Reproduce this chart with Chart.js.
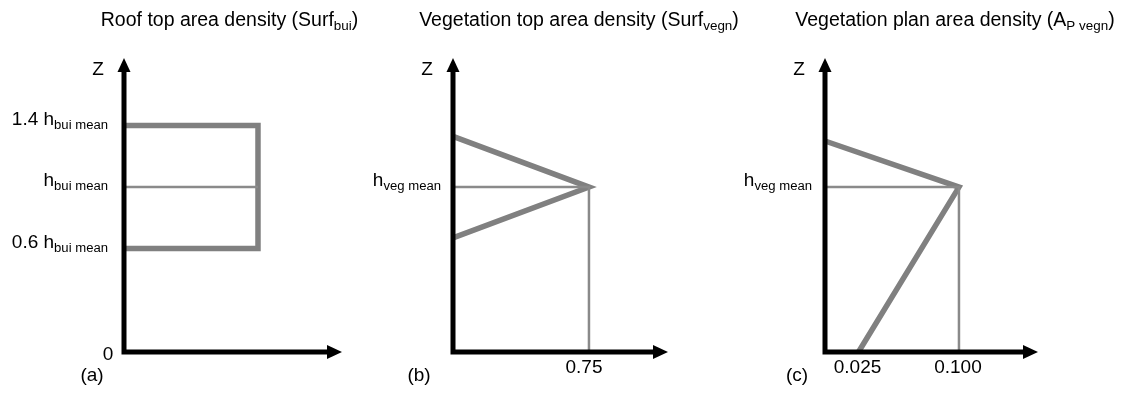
<!DOCTYPE html>
<html>
<head>
<meta charset="utf-8">
<script src="https://cdn.jsdelivr.net/npm/chart.js@4/dist/chart.umd.min.js"></script>
<style>
  html, body { margin: 0; padding: 0; background: #fff; }
  #wrap { position: relative; width: 1125px; height: 394px; overflow: hidden; }
  #wrap canvas { position: absolute; top: 0; left: 0; }
</style>
</head>
<body>
<div id="wrap">
  <canvas id="panelA" width="1125" height="394"></canvas>
  <canvas id="panelB" width="1125" height="394"></canvas>
  <canvas id="panelC" width="1125" height="394"></canvas>
</div>
<script>
// heights are in units of the mean height; the axis sits a little below z = 0
const Z_MIN = -0.073;
const Z_MAX = 1.84;

// (a) roof top area density: box between 0.6 and 1.4 h mean
const roofX = [0, 1, 1, 0];
const roofZ = [1.4, 1.4, 0.6, 0.6];
const roofMeanX = [0, 1];
const roofMeanZ = [1.0, 1.0];

// (b) vegetation top area density
const vegTopX = [0, 0.75, 0];
const vegTopZ = [1.33, 1.0, 0.67];
const vegTopGuideX = [0, 0.75, 0.75];
const vegTopGuideZ = [1.0, 1.0, Z_MIN];

// (c) vegetation plan area density
const vegPlanX = [0, 0.100, 0.025];
const vegPlanZ = [1.30, 1.0, Z_MIN];
const vegPlanGuideX = [0, 0.100, 0.100];
const vegPlanGuideZ = [1.0, 1.0, Z_MIN];

const xTicksB = [0.75];
const xTickLabelsB = ['0.75'];
const xTicksC = [0.025, 0.100];
const xTickLabelsC = ['0.025', '0.100'];

const FONT = '"Liberation Sans", Arial, Helvetica, sans-serif';
const GREY = '#808080';
const GREY_THIN = '#8a8a8a';

function pts(xs, zs) {
  return xs.map((x, i) => ({ x: x, y: zs[i] }));
}

// text with subscript pieces: parts = [[text, isSub], ...]
function drawRich(ctx, parts, x, y, align, size) {
  const subSize = size * 0.69;
  let total = 0;
  parts.forEach(p => {
    ctx.font = (p[1] ? subSize : size) + 'px ' + FONT;
    total += ctx.measureText(p[0]).width;
  });
  let cx = x;
  if (align === 'right') cx = x - total;
  else if (align === 'center') cx = x - total / 2;
  ctx.textAlign = 'left';
  ctx.textBaseline = 'alphabetic';
  ctx.fillStyle = '#000';
  parts.forEach(p => {
    ctx.font = (p[1] ? subSize : size) + 'px ' + FONT;
    ctx.fillText(p[0], cx, p[1] ? y + 4 : y);
    cx += ctx.measureText(p[0]).width;
  });
}

// black arrow axes plus all the annotation text of a panel
const arrowAxes = {
  id: 'arrowAxes',
  afterDatasetsDraw(chart, args, opts) {
    const ctx = chart.ctx;
    const a = chart.chartArea;
    const ox = a.left, oy = a.bottom;
    ctx.save();
    ctx.strokeStyle = '#000';
    ctx.fillStyle = '#000';
    ctx.lineWidth = 5;
    ctx.lineCap = 'butt';
    ctx.beginPath();
    ctx.moveTo(ox, oy + 2.5);
    ctx.lineTo(ox, a.top + 12);
    ctx.moveTo(ox - 2.5, oy);
    ctx.lineTo(a.right - 13, oy);
    ctx.stroke();
    ctx.beginPath();
    ctx.moveTo(ox, a.top);
    ctx.lineTo(ox - 6.5, a.top + 14);
    ctx.lineTo(ox + 6.5, a.top + 14);
    ctx.closePath();
    ctx.fill();
    ctx.beginPath();
    ctx.moveTo(a.right, oy);
    ctx.lineTo(a.right - 15, oy - 7);
    ctx.lineTo(a.right - 15, oy + 7);
    ctx.closePath();
    ctx.fill();

    const xs = chart.scales.x, ys = chart.scales.y;
    drawRich(ctx, opts.title, opts.titleX, 26, 'center', 19.5);
    drawRich(ctx, [['Z', false]], ox - 26, 75, 'center', 19);
    drawRich(ctx, [[opts.letter, false]], ox + opts.letterDx, 381, 'center', 19);
    if (opts.origin) drawRich(ctx, [['0', false]], ox - 16, 360, 'center', 19);
    (opts.zLabels || []).forEach(l => {
      drawRich(ctx, l.parts, ox - opts.zGap, ys.getPixelForValue(l.z) - 1, 'right', 19);
    });
    (opts.xTicks || []).forEach((v, i) => {
      drawRich(ctx, [[opts.xTickLabels[i], false]], xs.getPixelForValue(v) + opts.tickDx, 373, 'center', 19);
    });
    ctx.restore();
  }
};

function line(data, width, color) {
  return {
    data: data, showLine: true, borderColor: color, borderWidth: width,
    pointRadius: 0, fill: false, tension: 0, clip: false,
    borderJoinStyle: 'miter', borderCapStyle: 'butt'
  };
}

function makePanel(id, datasets, xMax, pad, textOpts) {
  return new Chart(document.getElementById(id), {
    type: 'scatter',
    data: { datasets: datasets },
    options: {
      responsive: false,
      animation: false,
      events: [],
      layout: { padding: pad },
      scales: {
        x: { type: 'linear', display: false, min: 0, max: xMax },
        y: { type: 'linear', display: false, min: Z_MIN, max: Z_MAX }
      },
      plugins: { legend: { display: false }, tooltip: { enabled: false }, arrowAxes: textOpts }
    },
    plugins: [arrowAxes]
  });
}

Chart.defaults.font.family = FONT;

makePanel('panelA',
  [line(pts(roofMeanX, roofMeanZ), 2.5, GREY_THIN), line(pts(roofX, roofZ), 5.5, GREY)],
  1.627, { left: 124, right: 783, top: 58, bottom: 42 },
  {
    title: [['Roof top area density (Surf', false], ['bui', true], [')', false]],
    titleX: 229.5, letter: '(a)', letterDx: -32, origin: true, zGap: 16,
    zLabels: [
      { z: 1.4, parts: [['1.4 h', false], ['bui mean', true]] },
      { z: 1.0, parts: [['h', false], ['bui mean', true]] },
      { z: 0.6, parts: [['0.6 h', false], ['bui mean', true]] }
    ]
  });

makePanel('panelB',
  [line(pts(vegTopGuideX, vegTopGuideZ), 2.5, GREY_THIN), line(pts(vegTopX, vegTopZ), 5.5, GREY)],
  1.186, { left: 453, right: 457, top: 58, bottom: 42 },
  {
    title: [['Vegetation top area density (Surf', false], ['vegn', true], [')', false]],
    titleX: 579, letter: '(b)', letterDx: -34, origin: false, zGap: 12, tickDx: -5,
    zLabels: [{ z: 1.0, parts: [['h', false], ['veg mean', true]] }],
    xTicks: xTicksB, xTickLabels: xTickLabelsB
  });

makePanel('panelC',
  [line(pts(vegPlanGuideX, vegPlanGuideZ), 2.5, GREY_THIN), line(pts(vegPlanX, vegPlanZ), 5.5, GREY)],
  0.159, { left: 825, right: 87, top: 58, bottom: 42 },
  {
    title: [['Vegetation plan area density (A', false], ['P vegn', true], [')', false]],
    titleX: 955, letter: '(c)', letterDx: -28, origin: false, zGap: 13, tickDx: -1,
    zLabels: [{ z: 1.0, parts: [['h', false], ['veg mean', true]] }],
    xTicks: xTicksC, xTickLabels: xTickLabelsC
  });
</script>
</body>
</html>
